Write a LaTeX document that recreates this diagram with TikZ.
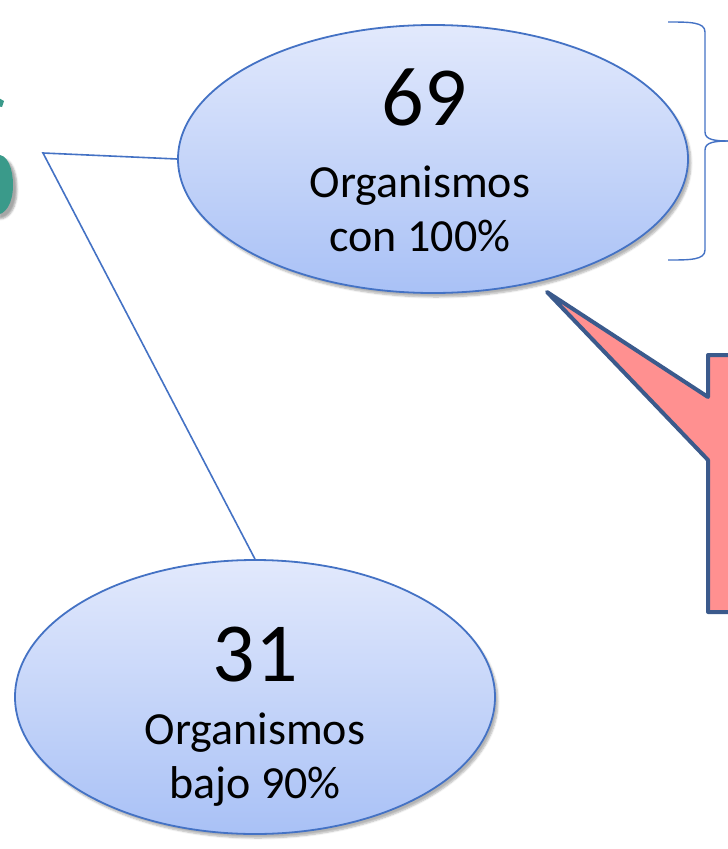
\documentclass[tikz,border=0pt]{standalone}
\usepackage{fontspec}
\setmainfont{Carlito}
\usetikzlibrary{shapes.geometric,shadows,shadows.blur}
\definecolor{edgeblue}{HTML}{4472C4}
\definecolor{toplight}{HTML}{E2E9FC}
\definecolor{botblue}{HTML}{A9C1F6}
\definecolor{callfill}{HTML}{FF9090}
\definecolor{calledge}{HTML}{3B5A8C}
\definecolor{teal}{HTML}{3A9A8A}
\tikzset{
  bubble/.style={ellipse, draw=edgeblue, line width=1.8pt, top color=toplight, bottom color=botblue,
    blur shadow={shadow xshift=3pt, shadow yshift=-4pt, shadow blur steps=6, shadow opacity=30}},
  bignum/.style={font=\fontsize{84}{84}\selectfont},
  smalltxt/.style={font=\fontsize{46}{54}\selectfont, align=center},
  conn/.style={draw=edgeblue, line width=1.6pt},
}
\begin{document}
\begin{tikzpicture}[x=1pt,y=-1pt]
\useasboundingbox (0,0) rectangle (728,849);
% teal glyph fragment
\fill[teal, blur shadow={shadow xshift=4pt, shadow yshift=-4pt, shadow opacity=35}]
  (-5,155) .. controls (8,152) and (13,170) .. (13,185) .. controls (13,203) and (6,215) .. (-5,215) -- cycle;
\fill[teal] (-3,97) -- (4,101) -- (2,107) -- (-3,106) -- cycle;
% ellipses
\node[bubble, minimum width=510, minimum height=268] (top) at (433,159) {};
\node[bubble, minimum width=480, minimum height=274] (bot) at (255,697) {};
\node[bignum] (n69) at (424,97) {69};
\node[smalltxt] (t69) at (420,209) {Organismos\\con 100\%};
\node[bignum] (n31) at (255,655) {31};
\node[smalltxt] (t31) at (255,760) {Organismos\\bajo 90\%};
% connectors
\coordinate (j) at (43,153);
\draw[conn] (top.west) -- (j) -- (bot.north);
% brace
\coordinate (b1) at (668,22);
\coordinate (b2) at (668,260);
\coordinate (bt) at (730,141);
\draw[conn, line width=1.4pt] (b1) .. controls (690,22) and (705,22) .. (705,32) -- (705,132)
  .. controls (705,140) and (715,141) .. (bt);
\draw[conn, line width=1.4pt] (b2) .. controls (690,260) and (705,260) .. (705,250) -- (705,150)
  .. controls (705,142) and (715,141) .. (bt);
% callout
\coordinate (tip) at (547,292);
\draw[draw=calledge, fill=callfill, line width=4pt, line join=round]
  (740,355) -- (708,355) -- (708,397) -- (tip) -- (708,460) -- (708,612) -- (740,612);
\end{tikzpicture}
\end{document}
